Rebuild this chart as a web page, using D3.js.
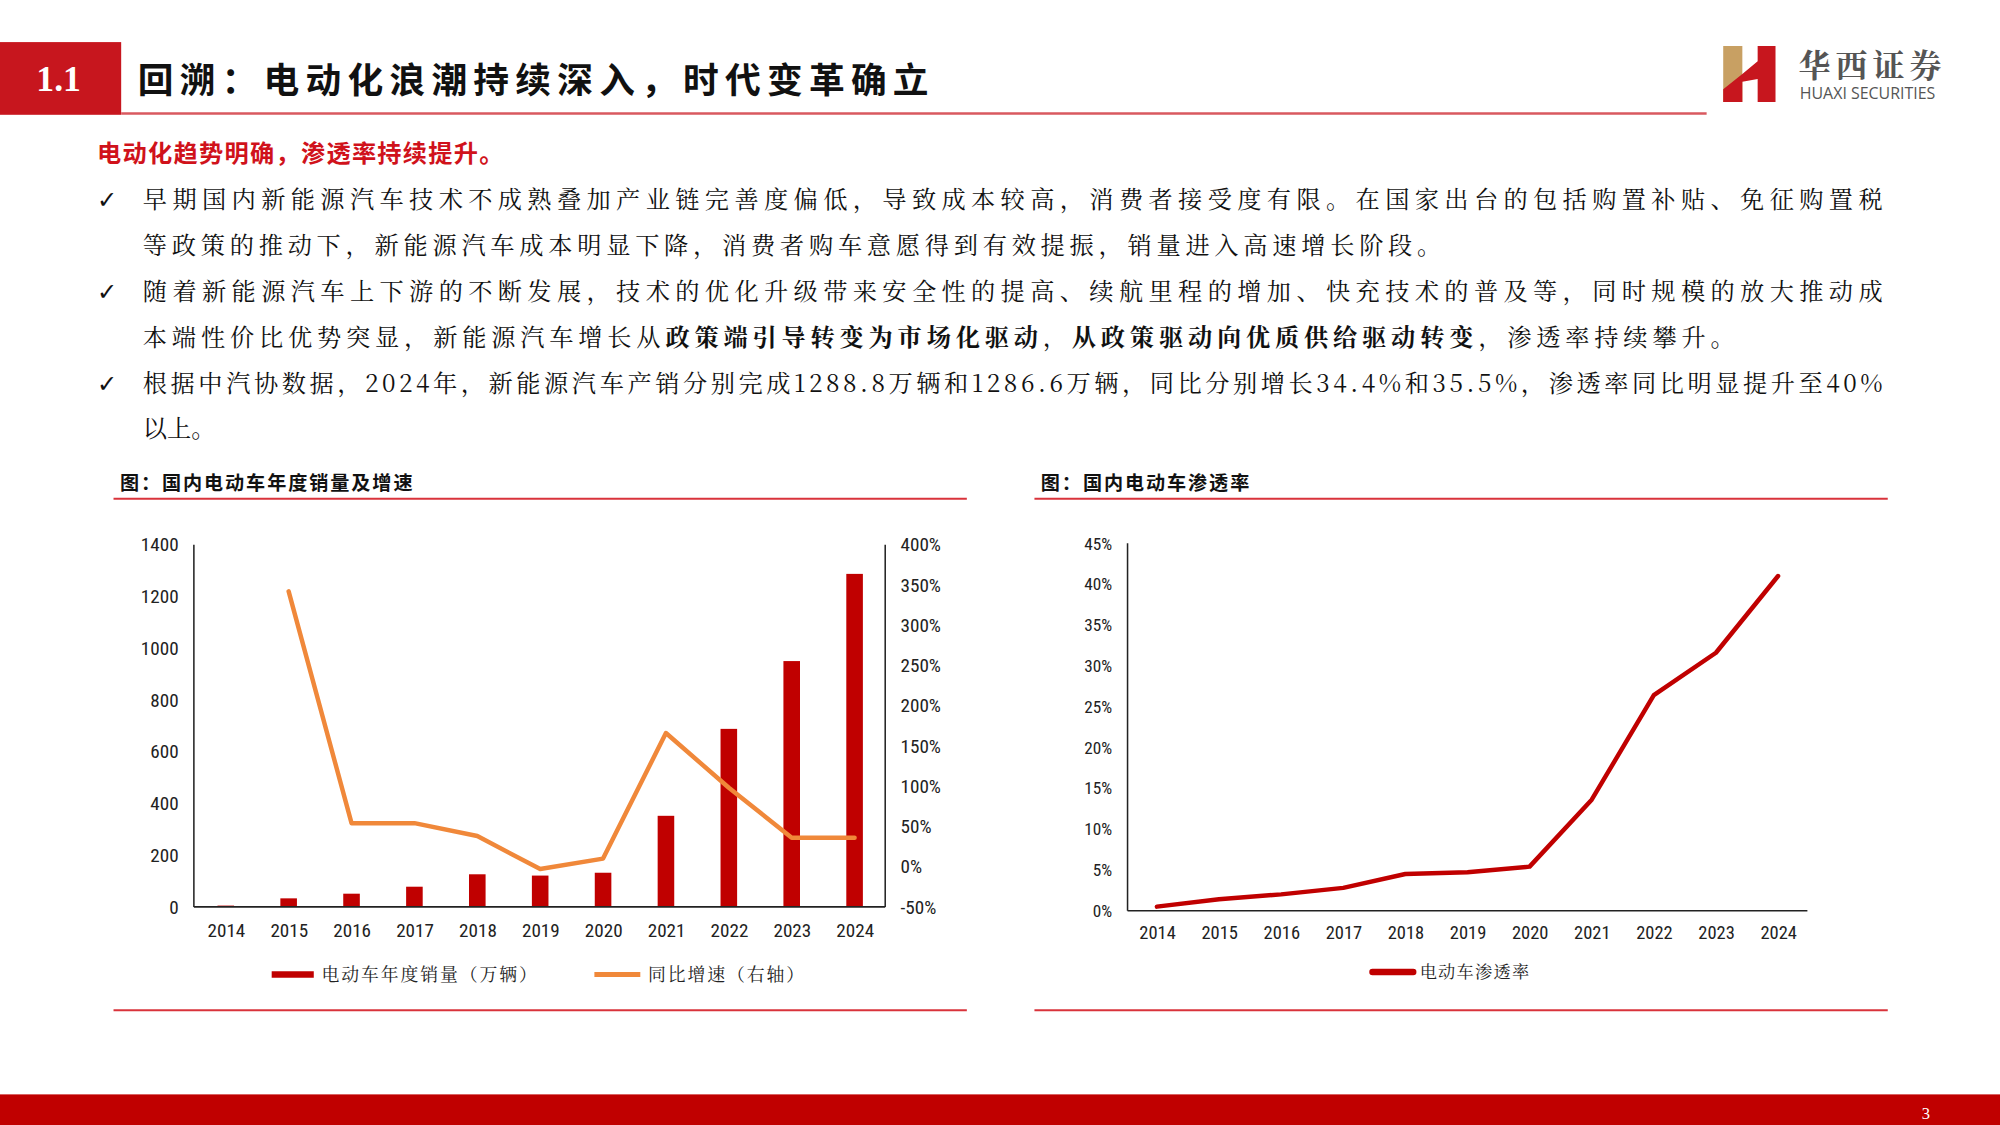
<!DOCTYPE html>
<html><head><meta charset="utf-8">
<script src="https://cdn.jsdelivr.net/npm/d3@7"></script>
<style>body{margin:0;background:#fff}svg{display:block}</style>
</head><body>
<svg id="s" width="2000" height="1125" viewBox="0 0 1568 882"></svg>
<script>
const years=["2014","2015","2016","2017","2018","2019","2020","2021","2022","2023","2024"];
const sales=[5,33,51,78,126,121,132,352,688,950,1287];
const growth=[null,342,54,54,38,-3,10,166,98,36,36];
const penetration=[0.5,1.4,2.0,2.8,4.5,4.7,5.4,13.6,26.4,31.6,41.0];
const leftTicks=[0,200,400,600,800,1000,1200,1400];
const rightTicks=[-50,0,50,100,150,200,250,300,350,400];
const penTicks=[0,5,10,15,20,25,30,35,40,45];

const svg=d3.select("#s");
const CJK="'Noto Sans CJK SC',sans-serif";
const SERIF="'Noto Serif CJK SC','Noto Sans CJK SC',serif";
const NARROW="'Liberation Sans Narrow','Roboto Condensed','Liberation Sans',sans-serif";
const RED="#c00000";

svg.append("rect").attr("x",0).attr("y",33).attr("width",95).attr("height",57).attr("fill","#c7161e");
svg.append("text").attr("x",46).attr("y",71).attr("text-anchor","middle").attr("fill","#fff").attr("font-family","'Liberation Serif',serif").attr("font-weight","bold").attr("font-size",28).text("1.1");
svg.append("line").attr("x1",95).attr("x2",1338).attr("y1",89).attr("y2",89).attr("stroke","#d9595f").attr("stroke-width",2);
svg.append("text").attr("x",108).attr("y",73).attr("font-family",CJK).attr("font-weight","bold").attr("font-size",28).attr("fill","#111").attr("textLength",620).attr("lengthAdjust","spacing").text("回溯：电动化浪潮持续深入，时代变革确立");
svg.append("path").attr("d","M1351,36 L1366,36 L1366,80 L1351,80 Z").attr("fill","#c8a063");
svg.append("path").attr("d","M1366,58 L1378,48 L1378,36 L1392,36 L1392,80 L1378,80 L1378,62 L1366,64 L1366,80 L1351,80 L1351,70 Z").attr("fill","#c7161e");
svg.append("text").attr("x",1410).attr("y",60).attr("font-family",SERIF).attr("font-weight","bold").attr("font-size",25).attr("fill","#555").attr("letter-spacing",4).text("华西证券");
svg.append("text").attr("x",1411).attr("y",78).attr("font-family","'Open Sans',sans-serif").attr("font-size",12.5).attr("fill","#555").text("HUAXI SECURITIES");

svg.append("text").attr("x",76).attr("y",127).attr("font-family",CJK).attr("font-weight","bold").attr("font-size",19).attr("fill","#d0121b").attr("letter-spacing",1).text("电动化趋势明确，渗透率持续提升。");
const lines=[
 [156,[["早期国内新能源汽车技术不成熟叠加产业链完善度偏低，导致成本较高，消费者接受度有限。在国家出台的包括购置补贴、免征购置税",0]],true,1364],
 [192,[["等政策的推动下，新能源汽车成本明显下降，消费者购车意愿得到有效提振，销量进入高速增长阶段。",0]],false,1018],
 [228,[["随着新能源汽车上下游的不断发展，技术的优化升级带来安全性的提高、续航里程的增加、快充技术的普及等，同时规模的放大推动成",0]],true,1364],
 [264,[["本端性价比优势突显，新能源汽车增长从",0],["政策端引导转变为市场化驱动",1],["，",0],["从政策驱动向优质供给驱动转变",1],["，渗透率持续攀升。",0]],false,1248],
 [300,[["根据中汽协数据，2024年，新能源汽车产销分别完成1288.8万辆和1286.6万辆，同比分别增长34.4%和35.5%，渗透率同比明显提升至40%",0]],true,1364],
 [336,[["以上。",0]],false,null]
];
lines.forEach(([y,segs,check,len])=>{
  if(check) svg.append("text").attr("x",76).attr("y",y+7).attr("font-family","'DejaVu Sans',sans-serif").attr("font-size",19).attr("fill","#111").text("✓");
  const t=svg.append("text").attr("x",112).attr("y",y+7).attr("font-family",SERIF).attr("font-size",19).attr("fill","#111")
   .attr("textLength",len).attr("lengthAdjust","spacing");
  segs.forEach(([s,b])=>t.append("tspan").attr("font-weight",b?"bold":"normal").text(s));
});

[[89,"图：国内电动车年度销量及增速"],[811,"图：国内电动车渗透率"]].forEach(([x,t])=>{
  svg.append("text").attr("x",x+5).attr("y",384).attr("font-family",CJK).attr("font-weight","bold").attr("font-size",15).attr("fill","#111").attr("letter-spacing",1.5).text(t);
  svg.append("line").attr("x1",x).attr("x2",x+669).attr("y1",391).attr("y2",391).attr("stroke","#d9333b").attr("stroke-width",1.6);
  svg.append("line").attr("x1",x).attr("x2",x+669).attr("y1",792).attr("y2",792).attr("stroke","#d9333b").attr("stroke-width",1.6);
});

const x1=d3.scalePoint().domain(years).range([177,670]);
const bw=13;
const yL=d3.scaleLinear().domain([0,1400]).range([711,427]);
const yR=d3.scaleLinear().domain([-50,400]).range([711,427]);
const tickStyle=g=>{g.select(".domain").remove();g.selectAll(".tick line").remove();g.selectAll("text").attr("font-family",NARROW).attr("font-size",15).attr("fill","#222");};
svg.append("g").attr("transform","translate(144,0)").call(d3.axisLeft(yL).tickValues(leftTicks).tickSize(0).tickPadding(4).tickFormat(d3.format("d"))).call(tickStyle);
svg.append("g").attr("transform","translate(702,0)").call(d3.axisRight(yR).tickValues(rightTicks).tickSize(0).tickPadding(4).tickFormat(d=>d+"%")).call(tickStyle);
svg.append("g").attr("transform","translate(0,720)").call(d3.axisBottom(x1).tickSize(0).tickPadding(4)).call(tickStyle);
svg.selectAll(".bar").data(years).join("rect").attr("x",d=>x1(d)-bw/2).attr("width",bw)
  .attr("y",(d,i)=>yL(sales[i])).attr("height",(d,i)=>yL(0)-yL(sales[i])).attr("fill",RED);
svg.append("line").attr("x1",152).attr("x2",152).attr("y1",427).attr("y2",711).attr("stroke","#222").attr("stroke-width",1.2);
svg.append("line").attr("x1",694).attr("x2",694).attr("y1",427).attr("y2",711).attr("stroke","#222").attr("stroke-width",1.2);
svg.append("line").attr("x1",152).attr("x2",694).attr("y1",711).attr("y2",711).attr("stroke","#222").attr("stroke-width",1.2);
svg.append("path").datum(years.map((d,i)=>[d,growth[i]]).filter(d=>d[1]!==null))
  .attr("d",d3.line().x(d=>x1(d[0])).y(d=>yR(d[1]))).attr("fill","none").attr("stroke","#f0883a").attr("stroke-width",3.5).attr("stroke-linejoin","round").attr("stroke-linecap","round");
svg.append("line").attr("x1",213).attr("x2",246).attr("y1",764).attr("y2",764).attr("stroke",RED).attr("stroke-width",5);
svg.append("text").attr("x",252).attr("y",769).attr("font-family",SERIF).attr("font-size",14).attr("fill","#222").attr("letter-spacing",1.5).text("电动车年度销量（万辆）");
svg.append("line").attr("x1",466).attr("x2",502).attr("y1",764).attr("y2",764).attr("stroke","#f0883a").attr("stroke-width",4);
svg.append("text").attr("x",508).attr("y",769).attr("font-family",SERIF).attr("font-size",14).attr("fill","#222").attr("letter-spacing",1.5).text("同比增速（右轴）");

const x2=d3.scalePoint().domain(years).range([907,1394]);
const yP=d3.scaleLinear().domain([0,45]).range([714,426]);
svg.append("g").attr("transform","translate(874,0)").call(d3.axisLeft(yP).tickValues(penTicks).tickSize(0).tickPadding(2).tickFormat(d=>d+"%")).call(g=>{tickStyle(g);g.selectAll("text").attr("font-size",13.5);});
svg.append("g").attr("transform","translate(0,722)").call(d3.axisBottom(x2).tickSize(0).tickPadding(4)).call(g=>{tickStyle(g);g.selectAll("text").attr("font-size",14.5);});
svg.append("line").attr("x1",884).attr("x2",884).attr("y1",426).attr("y2",714).attr("stroke","#222").attr("stroke-width",1.2);
svg.append("line").attr("x1",884).attr("x2",1417).attr("y1",714).attr("y2",714).attr("stroke","#222").attr("stroke-width",1.2);
svg.append("path").datum(years.map((d,i)=>[d,penetration[i]]))
  .attr("d",d3.line().x(d=>x2(d[0])).y(d=>yP(d[1]))).attr("fill","none").attr("stroke",RED).attr("stroke-width",3.5).attr("stroke-linejoin","round").attr("stroke-linecap","round");
svg.append("line").attr("x1",1076).attr("x2",1108).attr("y1",762).attr("y2",762).attr("stroke",RED).attr("stroke-width",5).attr("stroke-linecap","round");
svg.append("text").attr("x",1113).attr("y",767).attr("font-family",SERIF).attr("font-size",13.5).attr("fill","#222").attr("letter-spacing",1).text("电动车渗透率");

svg.append("rect").attr("x",0).attr("y",858).attr("width",1568).attr("height",24).attr("fill","#c00000");
svg.append("text").attr("x",1510).attr("y",877).attr("text-anchor","middle").attr("fill","#fff").attr("font-family","'Liberation Serif',serif").attr("font-size",13).text("3");
</script>
</body></html>
